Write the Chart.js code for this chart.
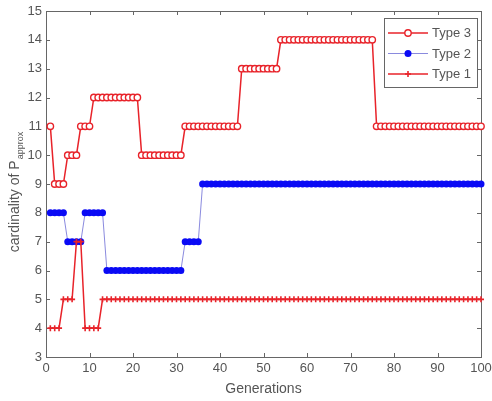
<!DOCTYPE html>
<html>
<head>
<meta charset="utf-8">
<script src="https://cdn.jsdelivr.net/npm/chart.js@4/dist/chart.umd.min.js"></script>
<style>
html,body{margin:0;padding:0;background:#ffffff;}
canvas{display:block;}
</style>
</head>
<body>
<canvas id="c" width="492" height="401"></canvas>
<script>
// ---------- data ----------
const generations = [
  1,2,3,4,5,6,7,8,9,10,
  11,12,13,14,15,16,17,18,19,20,
  21,22,23,24,25,26,27,28,29,30,
  31,32,33,34,35,36,37,38,39,40,
  41,42,43,44,45,46,47,48,49,50,
  51,52,53,54,55,56,57,58,59,60,
  61,62,63,64,65,66,67,68,69,70,
  71,72,73,74,75,76,77,78,79,80,
  81,82,83,84,85,86,87,88,89,90,
  91,92,93,94,95,96,97,98,99,100
];
const type3 = [
  11,9,9,9,10,10,10,11,11,11,
  12,12,12,12,12,12,12,12,12,12,
  12,10,10,10,10,10,10,10,10,10,
  10,11,11,11,11,11,11,11,11,11,
  11,11,11,11,13,13,13,13,13,13,
  13,13,13,14,14,14,14,14,14,14,
  14,14,14,14,14,14,14,14,14,14,
  14,14,14,14,14,11,11,11,11,11,
  11,11,11,11,11,11,11,11,11,11,
  11,11,11,11,11,11,11,11,11,11
];
const type2 = [
  8,8,8,8,7,7,7,7,8,8,
  8,8,8,6,6,6,6,6,6,6,
  6,6,6,6,6,6,6,6,6,6,
  6,7,7,7,7,9,9,9,9,9,
  9,9,9,9,9,9,9,9,9,9,
  9,9,9,9,9,9,9,9,9,9,
  9,9,9,9,9,9,9,9,9,9,
  9,9,9,9,9,9,9,9,9,9,
  9,9,9,9,9,9,9,9,9,9,
  9,9,9,9,9,9,9,9,9,9
];
const type1 = [
  4,4,4,5,5,5,7,7,4,4,
  4,4,5,5,5,5,5,5,5,5,
  5,5,5,5,5,5,5,5,5,5,
  5,5,5,5,5,5,5,5,5,5,
  5,5,5,5,5,5,5,5,5,5,
  5,5,5,5,5,5,5,5,5,5,
  5,5,5,5,5,5,5,5,5,5,
  5,5,5,5,5,5,5,5,5,5,
  5,5,5,5,5,5,5,5,5,5,
  5,5,5,5,5,5,5,5,5,5
];
const seriesNames = ['Type 3', 'Type 2', 'Type 1'];
const xLabel = 'Generations';
const yLabelMain = 'cardinality of P';
const yLabelSub = 'approx';

// ---------- styles ----------
const FONT = '"Liberation Sans", Arial, Helvetica, sans-serif';
const RED = '#e8232a';
const BLUE = '#0a0af5';
const BLUE_LINE = '#6c6cd6';
const TEXT = '#555555';
const AXIS = '#666666';

const toPts = arr => arr.map((v, i) => ({x: generations[i], y: v}));

const framePlugin = {
  id: 'frame',
  beforeDatasetsDraw(chart) {
    const {ctx, chartArea: a, scales} = chart;
    ctx.save();
    ctx.strokeStyle = AXIS;
    ctx.lineWidth = 1;
    ctx.strokeRect(Math.round(a.left) + 0.5, Math.round(a.top) + 0.5,
                   Math.round(a.right - a.left), Math.round(a.bottom - a.top));
    const tl = 4;
    ctx.beginPath();
    scales.x.ticks.forEach(t => {
      const px = Math.round(scales.x.getPixelForValue(t.value)) + 0.5;
      ctx.moveTo(px, a.bottom); ctx.lineTo(px, a.bottom - tl);
      ctx.moveTo(px, a.top); ctx.lineTo(px, a.top + tl);
    });
    scales.y.ticks.forEach(t => {
      const py = Math.round(scales.y.getPixelForValue(t.value)) + 0.5;
      ctx.moveTo(a.left, py); ctx.lineTo(a.left + tl, py);
      ctx.moveTo(a.right, py); ctx.lineTo(a.right - tl, py);
    });
    ctx.stroke();
    ctx.restore();
  },
  afterDraw(chart) {
    const ctx = chart.ctx;
    const a = chart.chartArea;
    // y-axis title with subscript
    ctx.save();
    ctx.fillStyle = TEXT;
    ctx.font = '14px ' + FONT;
    const wMain = ctx.measureText(yLabelMain).width;
    ctx.font = '9px ' + FONT;
    const wSub = ctx.measureText(yLabelSub).width;
    const total = wMain + 1 + wSub;
    const cy = (a.top + a.bottom) / 2 + 8;
    ctx.translate(19, cy + total / 2);
    ctx.rotate(-Math.PI / 2);
    ctx.textAlign = 'left';
    ctx.textBaseline = 'alphabetic';
    ctx.font = '14px ' + FONT;
    ctx.fillText(yLabelMain, 0, 0);
    ctx.font = '9px ' + FONT;
    ctx.fillText(yLabelSub, wMain + 1, 4);
    ctx.restore();

    // legend
    const bx = 384, by = 18, bw = 93, bh = 69;
    ctx.save();
    ctx.fillStyle = '#ffffff';
    ctx.fillRect(bx, by, bw, bh);
    ctx.strokeStyle = AXIS;
    ctx.lineWidth = 1;
    ctx.strokeRect(bx + 0.5, by + 0.5, bw, bh);
    const rows = [33, 53.5, 74];
    const dsByName = {};
    chart.data.datasets.forEach(d => dsByName[d.label] = d);
    seriesNames.forEach((name, i) => {
      const d = dsByName[name];
      const y = rows[i];
      ctx.strokeStyle = d.borderColor;
      ctx.lineWidth = d.borderWidth;
      ctx.beginPath();
      ctx.moveTo(388, y); ctx.lineTo(428, y);
      ctx.stroke();
      const mx = 408;
      if (d.pointStyle === 'cross') {
        ctx.strokeStyle = d.pointBorderColor;
        ctx.lineWidth = d.pointBorderWidth;
        ctx.beginPath();
        ctx.moveTo(mx - 3, y); ctx.lineTo(mx + 3, y);
        ctx.moveTo(mx, y - 3); ctx.lineTo(mx, y + 3);
        ctx.stroke();
      } else {
        ctx.beginPath();
        ctx.arc(mx, y, d.pointRadius, 0, Math.PI * 2);
        ctx.fillStyle = d.pointBackgroundColor;
        ctx.fill();
        if (d.pointBorderWidth > 0) {
          ctx.strokeStyle = d.pointBorderColor;
          ctx.lineWidth = d.pointBorderWidth;
          ctx.stroke();
        }
      }
      ctx.fillStyle = TEXT;
      ctx.font = '13px ' + FONT;
      ctx.textAlign = 'left';
      ctx.textBaseline = 'middle';
      ctx.fillText(name, 432, y + 0.5);
    });
    ctx.restore();
  }
};

new Chart(document.getElementById('c'), {
  type: 'line',
  data: {
    datasets: [
      {
        label: seriesNames[2], data: toPts(type1),
        borderColor: RED, borderWidth: 1.5, tension: 0,
        pointStyle: 'cross', pointRadius: 3, pointBorderWidth: 1.6,
        pointBorderColor: RED, pointBackgroundColor: RED, clip: false
      },
      {
        label: seriesNames[1], data: toPts(type2),
        borderColor: BLUE_LINE, borderWidth: 0.8, tension: 0,
        pointStyle: 'circle', pointRadius: 3.5, pointBorderWidth: 0,
        pointBorderColor: BLUE, pointBackgroundColor: BLUE, clip: false
      },
      {
        label: seriesNames[0], data: toPts(type3),
        borderColor: RED, borderWidth: 1.5, tension: 0,
        pointStyle: 'circle', pointRadius: 3.2, pointBorderWidth: 1.4,
        pointBorderColor: RED, pointBackgroundColor: '#ffffff', clip: false
      }
    ]
  },
  options: {
    responsive: false,
    animation: false,
    devicePixelRatio: 1,
    events: [],
    layout: {padding: {top: 11, right: 11, left: 0, bottom: 0}},
    plugins: {legend: {display: false}, tooltip: {enabled: false}},
    scales: {
      x: {
        type: 'linear', min: 0, max: 100,
        ticks: {stepSize: 10, padding: 4, color: TEXT, font: {family: FONT, size: 13}, maxRotation: 0},
        grid: {display: false, drawTicks: false},
        border: {display: false},
        title: {display: true, text: xLabel, color: TEXT, font: {family: FONT, size: 14}, padding: {top: 0, bottom: 3}},
        afterFit(s) { s.height = 44; s.paddingLeft = 0; s.paddingRight = 0; }
      },
      y: {
        type: 'linear', min: 3, max: 15,
        ticks: {stepSize: 1, padding: 4, color: TEXT, font: {family: FONT, size: 13}},
        grid: {display: false, drawTicks: false},
        border: {display: false},
        afterFit(s) { s.width = 46; s.paddingTop = 0; s.paddingBottom = 0; }
      }
    }
  },
  plugins: [framePlugin]
});
</script>
</body>
</html>
